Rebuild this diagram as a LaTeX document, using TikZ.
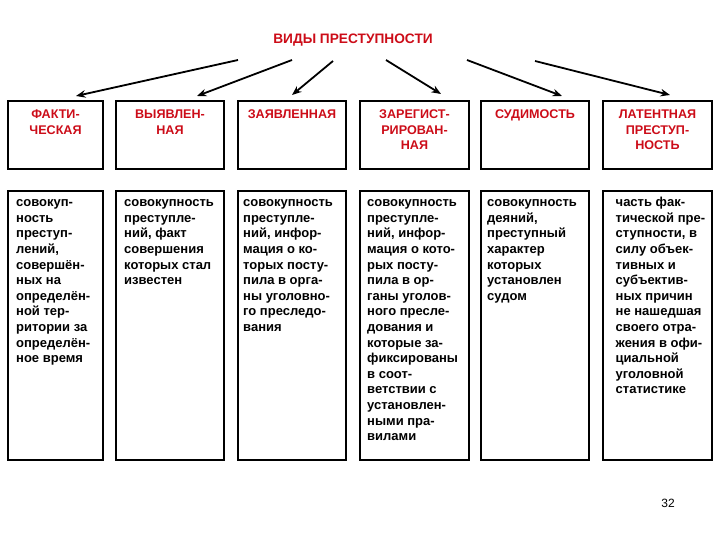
\documentclass[tikz,border=0pt]{standalone}
\usepackage{fontspec}
\setmainfont{Liberation Sans}
\usetikzlibrary{arrows.meta,positioning}
\definecolor{headred}{RGB}{204,12,24}
\newcommand{\firstline}{\rule{0pt}{10pt}}
\tikzset{
  box/.style={draw,line width=1.2pt,inner sep=0pt},
  headtext/.style={anchor=north,inner sep=0pt,align=center,text=headred,font=\fontsize{12.6}{15.5}\selectfont\bfseries},
  bodytext/.style={anchor=north west,inner sep=0pt,align=left,font=\fontsize{13}{15.6}\selectfont\bfseries}
}
\tikzset{arr/.style={line width=1.8pt,-{Stealth[length=9.5pt,width=7.5pt]}}}
\begin{document}
\begin{tikzpicture}[x=1pt,y=1pt,yscale=-1,xscale=1]
\useasboundingbox (0,0) rectangle (720,540);

% Title
\node[inner sep=0pt,text=headred,font=\fontsize{13.7}{16}\selectfont\bfseries] (title) at (353,40) {ВИДЫ ПРЕСТУПНОСТИ};

%Shape: Rectangle (header row)
\node[box,minimum width=95pt,minimum height=68pt] (h1) at (55.5,135) {};
\node[box,minimum width=108pt,minimum height=68pt] (h2) at (170,135) {};
\node[box,minimum width=108pt,minimum height=68pt] (h3) at (292,135) {};
\node[box,minimum width=109pt,minimum height=68pt] (h4) at (414.5,135) {};
\node[box,minimum width=108pt,minimum height=68pt] (h5) at (535,135) {};
\node[box,minimum width=109pt,minimum height=68pt] (h6) at (657.5,135) {};

%Shape: Rectangle (body row)
\node[box,minimum width=95pt,minimum height=269pt] (b1) at (55.5,325.5) {};
\node[box,minimum width=108pt,minimum height=269pt] (b2) at (170,325.5) {};
\node[box,minimum width=108pt,minimum height=269pt] (b3) at (292,325.5) {};
\node[box,minimum width=109pt,minimum height=269pt] (b4) at (414.5,325.5) {};
\node[box,minimum width=108pt,minimum height=269pt] (b5) at (535,325.5) {};
\node[box,minimum width=109pt,minimum height=269pt] (b6) at (657.5,325.5) {};

% Text Node
\node[headtext] (ht1) at (55.5,108.5) {\firstline ФАКТИ-\\ЧЕСКАЯ};
\node[headtext] (ht2) at (170,108.5) {\firstline ВЫЯВЛЕН-\\НАЯ};
\node[headtext] (ht3) at (292,108.5) {\firstline ЗАЯВЛЕННАЯ};
\node[headtext] (ht4) at (414.5,108.5) {\firstline ЗАРЕГИСТ-\\РИРОВАН-\\НАЯ};
\node[headtext] (ht5) at (535,108.5) {\firstline СУДИМОСТЬ};
\node[headtext] (ht6) at (657.5,108.5) {\firstline ЛАТЕНТНАЯ\\ПРЕСТУП-\\НОСТЬ};

% Text Node
\node[bodytext] (bt1) at (16,196.5) {\firstline совокуп-\\ность\\преступ-\\лений,\\совершён-\\ных на\\определён-\\ной тер-\\ритории за\\определён-\\ное время};
\node[bodytext] (bt2) at (124,196.5) {\firstline совокупность\\преступле-\\ний, факт\\совершения\\которых стал\\известен};
\node[bodytext] (bt3) at (243,196.5) {\firstline совокупность\\преступле-\\ний, инфор-\\мация о ко-\\торых посту-\\пила в орга-\\ны уголовно-\\го преследо-\\вания};
\node[bodytext] (bt4) at (367,196.5) {\firstline совокупность\\преступле-\\ний, инфор-\\мация о кото-\\рых посту-\\пила в ор-\\ганы уголов-\\ного пресле-\\дования и\\которые за-\\фиксированы\\в соот-\\ветствии с\\установлен-\\ными пра-\\вилами};
\node[bodytext] (bt5) at (487,196.5) {\firstline совокупность\\деяний,\\преступный\\характер\\которых\\установлен\\судом};
\node[bodytext] (bt6) at (615.5,196.5) {\firstline часть фак-\\тической пре-\\ступности, в\\силу объек-\\тивных и\\субъектив-\\ных причин\\не нашедшая\\своего отра-\\жения в офи-\\циальной\\уголовной\\статистике};

%Straight Lines (arrows)
\coordinate (s1) at (238,60); \coordinate (e1) at (76,96);
\coordinate (s2) at (292,60); \coordinate (e2) at (197,96);
\coordinate (s3) at (333,61); \coordinate (e3) at (292,95);
\coordinate (s4) at (386,60); \coordinate (e4) at (441,94);
\coordinate (s5) at (467,60); \coordinate (e5) at (562,96);
\coordinate (s6) at (535,61); \coordinate (e6) at (670,95);
\draw[arr] (s1) -- (e1);
\draw[arr] (s2) -- (e2);
\draw[arr] (s3) -- (e3);
\draw[arr] (s4) -- (e4);
\draw[arr] (s5) -- (e5);
\draw[arr] (s6) -- (e6);

% Text Node
\node[inner sep=0pt,font=\fontsize{12}{14}\selectfont] (page) at (668,503) {32};

\end{tikzpicture}
\end{document}
